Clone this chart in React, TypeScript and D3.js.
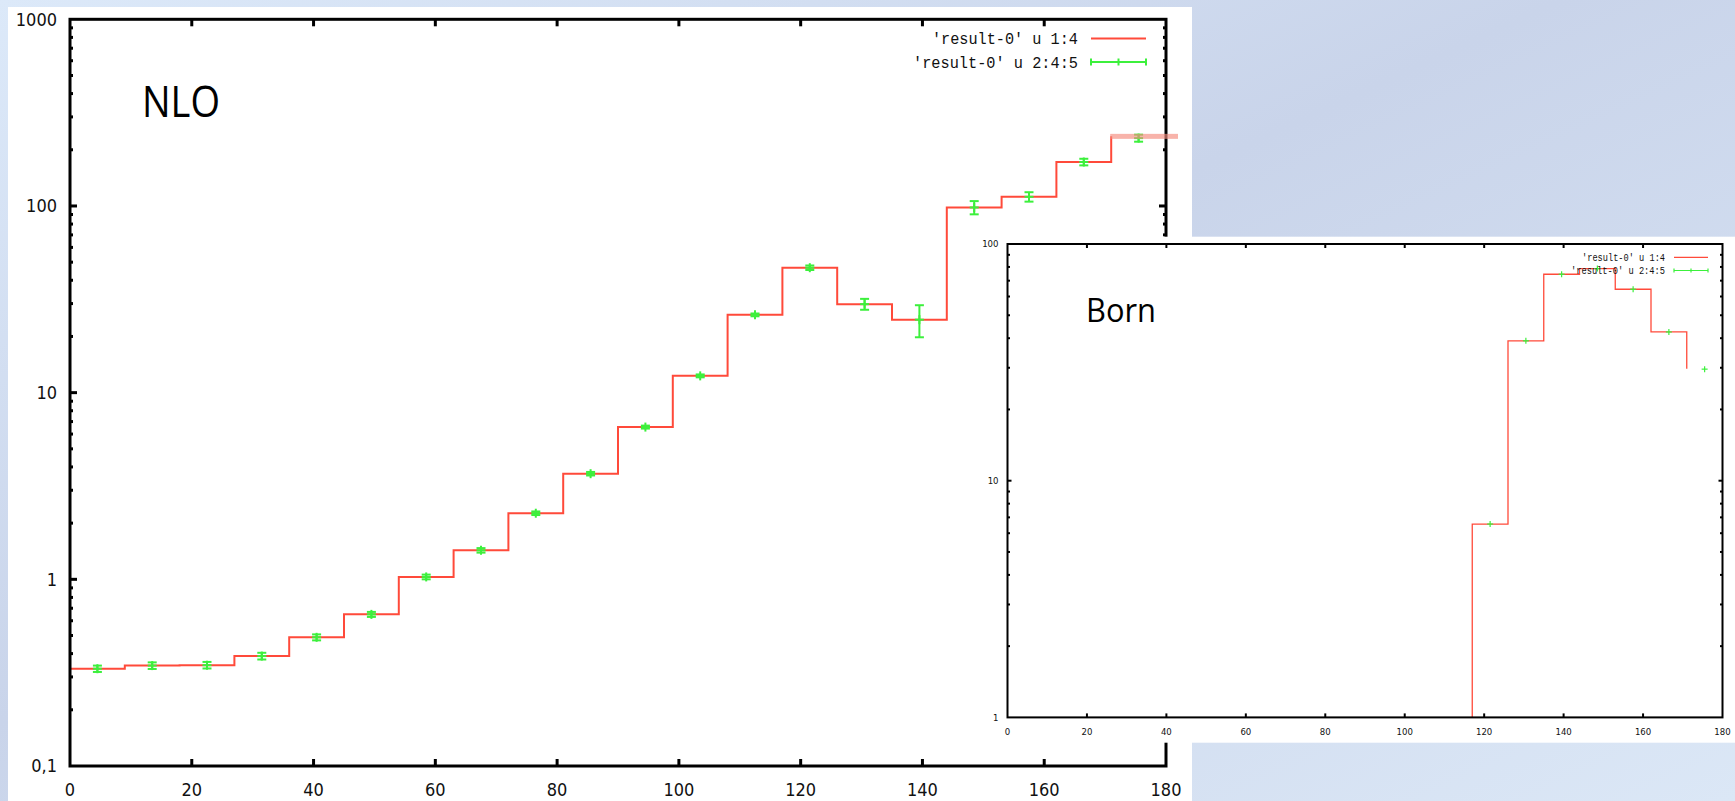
import React, { useEffect, useRef } from 'react';
import * as d3 from 'd3';

// bins of width 9 in x, gnuplot histeps style
const binStarts = [0, 9, 18, 27, 36, 45, 54, 63, 72, 81, 90, 99, 108, 117, 126, 135, 144, 153, 162, 171];
const binCenters = [4.5, 13.5, 22.5, 31.5, 40.5, 49.5, 58.5, 67.5, 76.5, 85.5, 94.5, 103.5, 112.5, 121.5, 130.5, 139.5, 148.5, 157.5, 166.5, 175.5];

// NLO ('result-0' u 1:4 and u 2:4:5)
const nloValues = [0.332, 0.345, 0.347, 0.388, 0.489, 0.649, 1.03, 1.43, 2.26, 3.68, 6.54, 12.3, 26.1, 46.7, 29.8, 24.6, 98.2, 112, 172, 236];
const nloPoints = [0.332, 0.345, 0.347, 0.388, 0.489, 0.649, 1.03, 1.43, 2.26, 3.68, 6.54, 12.3, 26.1, 46.7, 29.8, 24.6, 98.2, 112, 172, 231];
const nloErrors = [0.013, 0.014, 0.014, 0.016, 0.018, 0.02, 0.03, 0.04, 0.05, 0.08, 0.12, 0.22, 0.45, 1.3, 2.0, 4.8, 8, 6.5, 7, 10];

// Born, empty below 117
const bornValues = [null, null, null, null, null, null, null, null, null, null, null, null, null, 6.56, 39.0, 74.5, 78.7, 64.4, 42.5, 29.7];
const bornPoints = [null, null, null, null, null, null, null, null, null, null, null, null, null, 6.56, 39.0, 74.5, 78.7, 64.4, 42.5, 29.6];

const xTicks = [0, 20, 40, 60, 80, 100, 120, 140, 160, 180];
const nloYTicks = [0.1, 1, 10, 100, 1000];
const nloYLabels = ['0,1', '1', '10', '100', '1000'];
const bornYTicks = [1, 10, 100];
const bornYLabels = ['1', '10', '100'];
const legendLabels = ["'result-0' u 1:4", "'result-0' u 2:4:5"];

const RED = '#ff4a3a';
const GREEN = '#3cf03c';
const tickFont = "'Liberation Sans Narrow', 'DejaVu Sans Condensed', 'Liberation Sans', sans-serif";
const monoFont = "'Liberation Mono', 'DejaVu Sans Mono', monospace";
const titleFont = "'Open Sans', 'Noto Sans', sans-serif";

type Panel = {
  left: number; right: number; top: number; bottom: number;
  yDomain: [number, number];
  yTicks: number[]; yLabels: string[];
  values: (number | null)[]; points: (number | null)[]; errors: number[] | null;
  axisWidth: number; majorLen: number; minorLen: number;
  fontSize: number; yLabelX: number; xLabelY: number;
  lineWidth: number; barWidth: number; cap: number; plus: number;
  legend: { textX: number; y0: number; y1: number; lineX0: number; lineX1: number; size: number; widths: number[]; tick: number };
};

function drawPanel(g: d3.Selection<SVGGElement, unknown, null, undefined>, p: Panel) {
  const x = d3.scaleLinear().domain([0, 180]).range([p.left, p.right]);
  const y = d3.scaleLog().domain(p.yDomain).range([p.bottom, p.top]);

  // step line
  const steps: [number, number][] = [];
  p.values.forEach((v, i) => {
    if (v == null) return;
    if (steps.length === 0 && i > 0) steps.push([binStarts[i], p.yDomain[0]]);
    steps.push([binStarts[i], v]);
  });
  const line = d3.line<[number, number]>()
    .x(d => x(d[0]))
    .y(d => y(d[1]))
    .curve(d3.curveStepAfter);
  g.append('path')
    .attr('d', line(steps))
    .attr('fill', 'none')
    .attr('stroke', RED)
    .attr('stroke-width', p.lineWidth);

  // error bars + points
  p.points.forEach((v, i) => {
    if (v == null) return;
    const cx = x(binCenters[i]);
    const cy = y(v);
    const e = p.errors ? p.errors[i] : 0;
    const eg = g.append('g').attr('stroke', GREEN).attr('stroke-width', p.barWidth);
    if (e > 0) {
      const y1 = y(v + e), y2 = y(v - e);
      eg.append('line').attr('x1', cx).attr('x2', cx).attr('y1', y1).attr('y2', y2);
      eg.append('line').attr('x1', cx - p.cap).attr('x2', cx + p.cap).attr('y1', y1).attr('y2', y1);
      eg.append('line').attr('x1', cx - p.cap).attr('x2', cx + p.cap).attr('y1', y2).attr('y2', y2);
    }
    eg.append('line').attr('x1', cx - p.plus).attr('x2', cx + p.plus).attr('y1', cy).attr('y2', cy);
    eg.append('line').attr('x1', cx).attr('x2', cx).attr('y1', cy - p.plus).attr('y2', cy + p.plus);
  });

  // frame
  const axes = g.append('g').attr('stroke', '#000').attr('stroke-width', p.axisWidth).attr('fill', 'none');
  axes.append('rect')
    .attr('x', p.left).attr('y', p.top)
    .attr('width', p.right - p.left).attr('height', p.bottom - p.top);

  // x ticks (bottom and top, inward)
  xTicks.forEach(t => {
    if (t === 0 || t === 180) return;
    const xx = x(t);
    axes.append('line').attr('x1', xx).attr('x2', xx).attr('y1', p.bottom).attr('y2', p.bottom - p.majorLen);
    axes.append('line').attr('x1', xx).attr('x2', xx).attr('y1', p.top).attr('y2', p.top + p.majorLen);
  });

  // y ticks, major + log minor
  const [lo, hi] = p.yDomain;
  for (let dec = lo; dec < hi; dec *= 10) {
    for (let m = 1; m < 10; m++) {
      const v = dec * m;
      const yy = y(v);
      const len = m === 1 ? p.majorLen : p.minorLen;
      if (m === 1 && dec === lo) continue;
      axes.append('line').attr('x1', p.left).attr('x2', p.left + len).attr('y1', yy).attr('y2', yy);
      axes.append('line').attr('x1', p.right).attr('x2', p.right - len).attr('y1', yy).attr('y2', yy);
    }
  }

  // tick labels
  const labels = g.append('g').attr('font-family', tickFont).attr('font-size', p.fontSize).attr('fill', '#111');
  xTicks.forEach(t => {
    labels.append('text')
      .attr('x', x(t)).attr('y', p.xLabelY)
      .attr('text-anchor', 'middle')
      .text(String(t));
  });
  p.yTicks.forEach((t, i) => {
    labels.append('text')
      .attr('x', p.yLabelX).attr('y', y(t))
      .attr('dy', '0.35em')
      .attr('text-anchor', 'end')
      .text(p.yLabels[i]);
  });

  // key
  const L = p.legend;
  const key = g.append('g').attr('font-family', monoFont).attr('font-size', L.size).attr('fill', '#111');
  [L.y0, L.y1].forEach((ly, i) => {
    key.append('text')
      .attr('x', L.textX).attr('y', ly)
      .attr('dy', '0.35em')
      .attr('text-anchor', 'end')
      .attr('textLength', L.widths[i])
      .attr('lengthAdjust', 'spacingAndGlyphs')
      .text(legendLabels[i]);
  });
  key.append('line')
    .attr('x1', L.lineX0).attr('x2', L.lineX1).attr('y1', L.y0).attr('y2', L.y0)
    .attr('stroke', RED).attr('stroke-width', p.lineWidth);
  const kg = key.append('g').attr('stroke', GREEN).attr('stroke-width', p.barWidth);
  kg.append('line').attr('x1', L.lineX0).attr('x2', L.lineX1).attr('y1', L.y1).attr('y2', L.y1);
  [L.lineX0, (L.lineX0 + L.lineX1) / 2, L.lineX1].forEach(kx => {
    kg.append('line').attr('x1', kx).attr('x2', kx).attr('y1', L.y1 - L.tick).attr('y2', L.y1 + L.tick);
  });

  return { x, y };
}

const App: React.FC = () => {
  const ref = useRef<SVGSVGElement>(null);

  useEffect(() => {
    if (!ref.current) return;
    const svg = d3.select(ref.current);
    svg.selectAll('*').remove();

    const defs = svg.append('defs');
    const grad = defs.append('linearGradient').attr('id', 'sky')
      .attr('x1', 0).attr('y1', 0).attr('x2', 1).attr('y2', 1);
    grad.append('stop').attr('offset', '0%').attr('stop-color', '#dce9f9');
    grad.append('stop').attr('offset', '45%').attr('stop-color', '#c9d4ea');
    grad.append('stop').attr('offset', '100%').attr('stop-color', '#dbe7f6');
    svg.append('rect').attr('width', 1735).attr('height', 801).attr('fill', 'url(#sky)');

    // NLO plot
    svg.append('rect').attr('x', 8).attr('y', 7).attr('width', 1184).attr('height', 794).attr('fill', '#fff');
    const main = svg.append('g');
    const m = drawPanel(main, {
      left: 70, right: 1166, top: 19.3, bottom: 766,
      yDomain: [0.1, 1000], yTicks: nloYTicks, yLabels: nloYLabels,
      values: nloValues, points: nloPoints, errors: nloErrors,
      axisWidth: 3, majorLen: 7, minorLen: 3,
      fontSize: 18, yLabelX: 57, xLabelY: 796,
      lineWidth: 2, barWidth: 2, cap: 4.5, plus: 4.5,
      legend: { textX: 1078, y0: 38.5, y1: 62, lineX0: 1091, lineX1: 1146, size: 17, widths: [146, 165], tick: 3.5 },
    });
    main.append('text')
      .attr('x', 142).attr('y', 116.5)
      .attr('font-family', titleFont).attr('font-size', 43)
      .attr('textLength', 78).attr('lengthAdjust', 'spacingAndGlyphs')
      .text('NLO');
    // highlighted last bin
    main.append('rect')
      .attr('x', m.x(171) - 1).attr('y', m.y(nloValues[19]) - 2.5)
      .attr('width', m.x(180) - m.x(171) + 13).attr('height', 5)
      .attr('fill', '#f48a7c').attr('opacity', 0.65);

    // Born inset
    svg.append('rect').attr('x', 960).attr('y', 236.7).attr('width', 775).attr('height', 506).attr('fill', '#fff');
    const inset = svg.append('g');
    drawPanel(inset, {
      left: 1007.5, right: 1722.5, top: 244, bottom: 717.4,
      yDomain: [1, 100], yTicks: bornYTicks, yLabels: bornYLabels,
      values: bornValues, points: bornPoints, errors: null,
      axisWidth: 2, majorLen: 4, minorLen: 2.5,
      fontSize: 9.5, yLabelX: 998.5, xLabelY: 735,
      lineWidth: 1.3, barWidth: 1.2, cap: 2.5, plus: 3,
      legend: { textX: 1665, y0: 257.3, y1: 270.5, lineX0: 1674, lineX1: 1708, size: 10, widths: [83, 94], tick: 2 },
    });
    inset.append('text')
      .attr('x', 1086).attr('y', 321.5)
      .attr('font-family', titleFont).attr('font-size', 33)
      .attr('textLength', 70).attr('lengthAdjust', 'spacingAndGlyphs')
      .text('Born');
  }, []);

  return (
    <svg ref={ref} width={1735} height={801}
      style={{ position: 'absolute', left: 0, top: 0, display: 'block' }} />
  );
};

export default App;
